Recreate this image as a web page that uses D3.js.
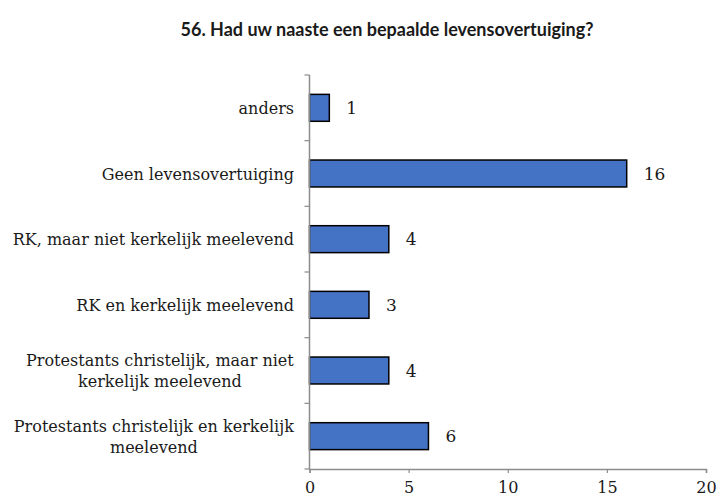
<!DOCTYPE html>
<html>
<head>
<meta charset="utf-8">
<script src="https://cdn.jsdelivr.net/npm/d3@7"></script>
<style>
  body { margin: 0; background: #fff; }
  .lbl { font-family: "DejaVu Serif", serif; fill: #1a1a1a; }
</style>
</head>
<body>
<script>
// categories top to bottom, as in the picture
var categories = [
  "anders",
  "Geen levensovertuiging",
  "RK, maar niet kerkelijk meelevend",
  "RK en kerkelijk meelevend",
  "Protestants christelijk, maar niet|kerkelijk meelevend",
  "Protestants christelijk en kerkelijk|meelevend"
];
var values = [1, 16, 4, 3, 4, 6];
var xTicks = [0, 5, 10, 15, 20];

var width = 720, height = 502;
var margin = {top: 75, left: 309.5, right: 14, bottom: 33};

var svg = d3.select('body').append('svg')
  .attr('width', width)
  .attr('height', height);

svg.append('text')
  .attr('x', 387)
  .attr('y', 36)
  .attr('text-anchor', 'middle')
  .style('font-family', 'Lato, sans-serif')
  .style('font-weight', 'bold')
  .style('font-size', '18px')
  .style('fill', '#1a1a1a')
  .text('56. Had uw naaste een bepaalde levensovertuiging?');

var x = d3.scaleLinear().domain([0, 20]).range([margin.left, 706]);
var y = d3.scaleBand().domain(d3.range(categories.length))
  .range([margin.top, height - margin.bottom])
  .paddingInner(0.59).paddingOuter(0.295);

var y0 = margin.top, y1 = height - margin.bottom;
var band = (y1 - y0) / categories.length;

// bars
svg.selectAll('rect.bar')
  .data(values)
  .enter()
  .append('rect')
  .attr('class', 'bar')
  .attr('x', x(0))
  .attr('y', function(d, i) { return y(i); })
  .attr('width', function(d) { return x(d) - x(0); })
  .attr('height', y.bandwidth())
  .attr('fill', '#4472C4')
  .attr('stroke', '#000')
  .attr('stroke-width', 1.5);

// value labels
svg.selectAll('text.val')
  .data(values)
  .enter()
  .append('text')
  .attr('class', 'lbl val')
  .attr('x', function(d) { return x(d) + 17; })
  .attr('y', function(d, i) { return y(i) + y.bandwidth() / 2 + 6; })
  .style('font-size', '17px')
  .text(function(d) { return d; });

// category labels, wrapped lines centred on each other, block right-aligned
svg.selectAll('text.cat')
  .data(categories)
  .enter()
  .append('text')
  .attr('class', 'lbl cat')
  .attr('text-anchor', 'middle')
  .style('font-size', '16px')
  .each(function(d, i) {
    var lines = d.split('|');
    var t = d3.select(this);
    var cy = y(i) + y.bandwidth() / 2;
    var lh = 21;
    var start = cy - (lines.length - 1) * lh / 2 + 6;
    lines.forEach(function(l, k) {
      t.append('tspan').attr('x', 0).attr('y', start + k * lh).text(l);
    });
    var w = this.getBBox().width;
    t.selectAll('tspan').attr('x', 294 - w / 2);
  });

// axes
var axisColor = '#8c8c8c';
svg.append('line')
  .attr('x1', x(0)).attr('x2', x(0))
  .attr('y1', y0).attr('y2', y1)
  .attr('stroke', axisColor).attr('stroke-width', 1.5);

svg.selectAll('line.ytick')
  .data(d3.range(categories.length + 1))
  .enter()
  .append('line')
  .attr('x1', x(0) - 5).attr('x2', x(0))
  .attr('y1', function(i) { return y0 + i * band; })
  .attr('y2', function(i) { return y0 + i * band; })
  .attr('stroke', axisColor).attr('stroke-width', 1.2);

var xAxis = d3.axisBottom(x).tickValues(xTicks).tickSize(4).tickPadding(9);
var gx = svg.append('g')
  .attr('transform', 'translate(0,' + y1 + ')')
  .call(xAxis);
gx.select('.domain').attr('stroke', axisColor).attr('stroke-width', 1.5);
gx.selectAll('.tick line').attr('stroke', axisColor).attr('stroke-width', 1.2);
gx.selectAll('.tick text')
  .attr('class', 'lbl')
  .style('font-size', '16px')
  .attr('fill', '#1a1a1a');
</script>
</body>
</html>
